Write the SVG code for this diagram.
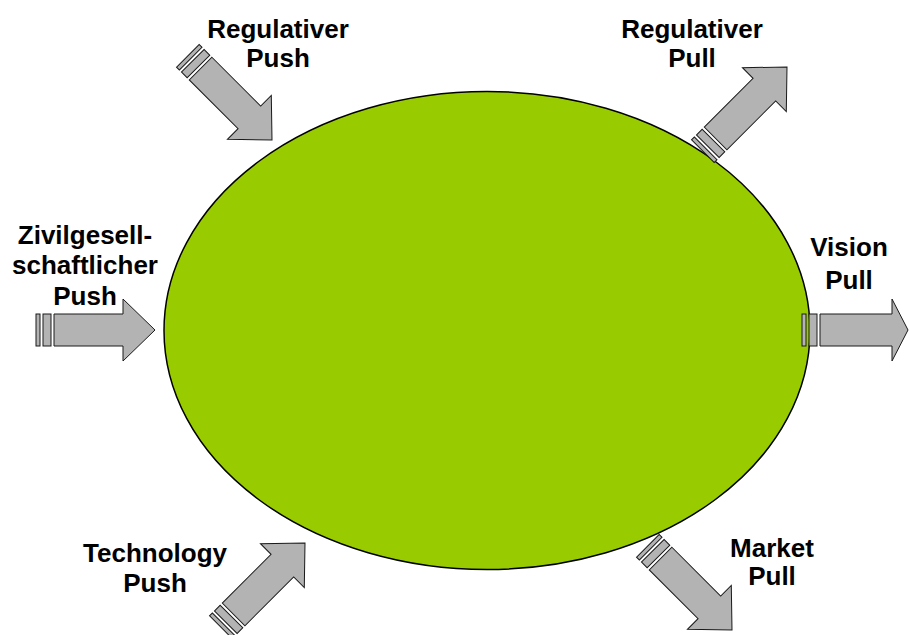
<svg xmlns="http://www.w3.org/2000/svg" width="909" height="635" viewBox="0 0 909 635">
<style>
.a{fill:#b3b3b3;stroke:#1a1a1a;stroke-width:1;stroke-linejoin:miter}
.t{font-family:"Liberation Sans",Arial,sans-serif;font-weight:bold;font-size:26px;fill:#000;text-anchor:middle}
</style>
<defs>
<g id="arrow">
<rect class="a" x="-119" y="-16" width="4" height="32"/>
<rect class="a" x="-112" y="-16" width="8" height="32"/>
<polygon class="a" points="-101,-16 -32,-16 -32,-31 0,0 -32,31 -32,16 -101,16"/>
</g>
</defs>
<rect width="909" height="635" fill="#fff"/>
<g id="center">
<ellipse cx="487" cy="330.5" rx="323" ry="239" fill="#99cc00" stroke="#000" stroke-width="1.5"/>
</g>
<g id="connectors">
<use href="#arrow" transform="translate(272,140) rotate(45)"/>
<use href="#arrow" transform="translate(787,67) rotate(-45)"/>
<use href="#arrow" transform="translate(155,330)"/>
<g transform="translate(802,330)">
<rect class="a" x="0" y="-16" width="4" height="32"/>
<rect class="a" x="7" y="-16" width="8" height="32"/>
<polygon class="a" points="18,-16 90,-16 90,-31 106,0 90,31 90,16 18,16"/>
</g>
<use href="#arrow" transform="translate(305,543) rotate(-45)"/>
<use href="#arrow" transform="translate(732,630) rotate(45)"/>
</g>
<g id="regulativer-push"><text class="t" x="278" y="38">Regulativer</text><text class="t" x="278" y="67">Push</text></g>
<g id="regulativer-pull"><text class="t" x="692" y="38">Regulativer</text><text class="t" x="692" y="67">Pull</text></g>
<g id="zivil-push"><text class="t" x="85" y="244">Zivilgesell-</text><text class="t" x="85" y="274">schaftlicher</text><text class="t" x="85" y="305">Push</text></g>
<g id="vision-pull"><text class="t" x="849" y="256">Vision</text><text class="t" x="849" y="289">Pull</text></g>
<g id="technology-push"><text class="t" x="155" y="562">Technology</text><text class="t" x="155" y="592">Push</text></g>
<g id="market-pull"><text class="t" x="772" y="557">Market</text><text class="t" x="772" y="585">Pull</text></g>
</svg>
